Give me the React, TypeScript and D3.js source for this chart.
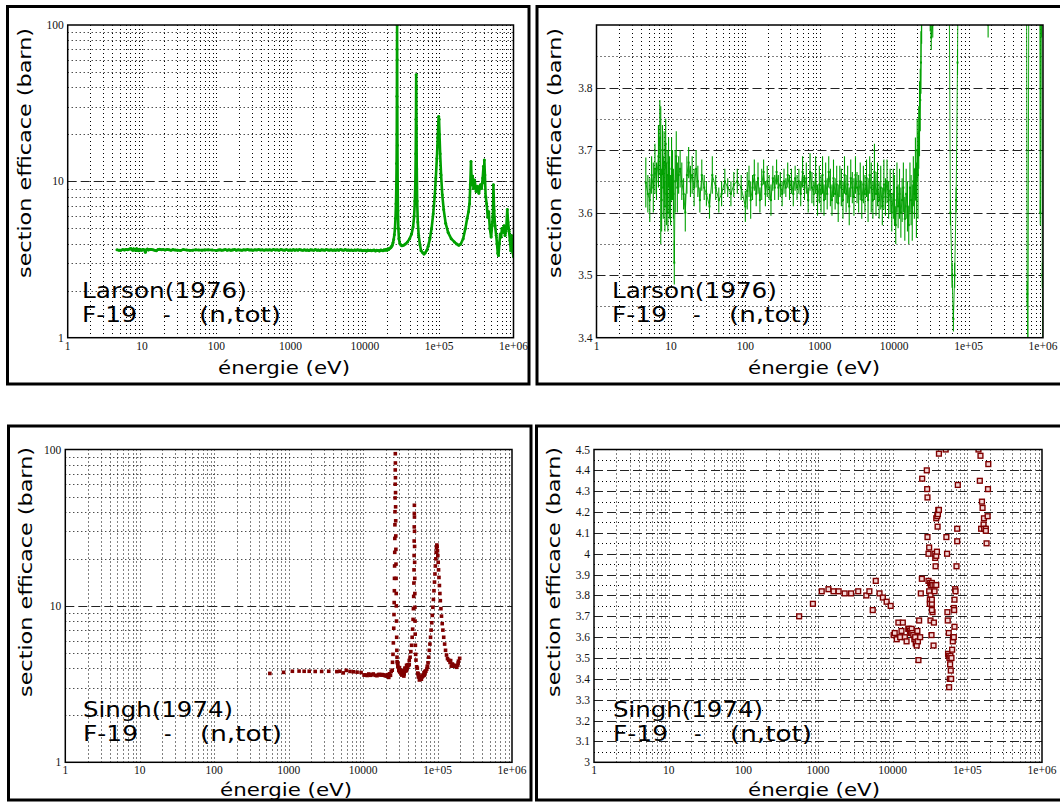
import React from 'react';
import * as d3 from 'd3';

// ---------------- data ----------------
const energyTicks = [1, 10, 100, 1000, 10000, 100000, 1000000];
const energyTickLabels = ['1', '10', '100', '1000', '10000', '1e+05', '1e+06'];
const logSigmaTicks = [1, 10, 100];
const logSigmaTickLabels = ['1', '10', '100'];
const larsonZoomTicks = [3.4, 3.5, 3.6, 3.7, 3.8];
const larsonZoomTickLabels = ['3.4', '3.5', '3.6', '3.7', '3.8'];
const singhZoomTicks = [3, 3.1, 3.2, 3.3, 3.4, 3.5, 3.6, 3.7, 3.8, 3.9, 4, 4.1, 4.2, 4.3, 4.4, 4.5];
const singhZoomTickLabels = ['3', '3.1', '3.2', '3.3', '3.4', '3.5', '3.6', '3.7', '3.8', '3.9', '4', '4.1', '4.2', '4.3', '4.4', '4.5'];

// Larson (1976): [energy eV, sigma barn, error barn] — flat region
const larsonFlat: [number, number, number][] = [
  [4.6, 3.648, 0.04], [4.9, 3.63, 0.03], [5.2, 3.62, 0.035], [5.5, 3.66, 0.03], [5.8, 3.64, 0.04],
  [6.1, 3.67, 0.04], [6.4, 3.65, 0.03], [6.8, 3.69, 0.05], [7.1, 3.72, 0.06], [7.3, 3.66, 0.11],
  [7.5, 3.62, 0.05], [7.7, 3.7, 0.04], [7.9, 3.64, 0.05], [8.1, 3.68, 0.05], [8.3, 3.61, 0.04],
  [8.5, 3.71, 0.04], [8.7, 3.63, 0.05], [8.9, 3.66, 0.04], [9.1, 3.6, 0.03], [9.3, 3.68, 0.04],
  [9.6, 3.64, 0.05], [9.9, 3.62, 0.04], [10.2, 3.67, 0.05], [10.5, 3.66, 0.04], [10.8, 3.63, 0.04],
  [11.1, 3.52, 0.035], [11.4, 3.65, 0.05], [11.8, 3.69, 0.04], [12.2, 3.64, 0.04], [12.7, 3.66, 0.03],
  [13.3, 3.67, 0.03], [14, 3.65, 0.03], [14.8, 3.63, 0.025], [15.6, 3.6, 0.03], [16.4, 3.66, 0.03],
  [17.3, 3.68, 0.025], [18.3, 3.65, 0.025], [19.3, 3.66, 0.03], [20.5, 3.64, 0.03], [21.8, 3.67, 0.03],
  [23, 3.65, 0.025], [24.5, 3.62, 0.02], [26, 3.66, 0.025], [28, 3.64, 0.02], [30, 3.63, 0.02],
  [33, 3.61, 0.02], [36, 3.66, 0.03], [40, 3.64, 0.02], [44, 3.62, 0.02], [48, 3.63, 0.02],
  [53, 3.65, 0.02], [58, 3.64, 0.015], [64, 3.63, 0.02], [70, 3.645, 0.02], [78, 3.65, 0.02],
  [88, 3.64, 0.02], [100, 3.61, 0.025], [106, 3.635, 0.03], [112, 3.65, 0.025], [118, 3.62, 0.03],
  [125, 3.64, 0.02], [132, 3.66, 0.025], [140, 3.63, 0.02], [148, 3.655, 0.025], [157, 3.62, 0.02],
  [166, 3.645, 0.025], [176, 3.665, 0.02], [186, 3.63, 0.02], [197, 3.65, 0.025], [209, 3.64, 0.02],
  [221, 3.62, 0.025], [234, 3.655, 0.02], [248, 3.64, 0.02], [263, 3.665, 0.02], [278, 3.64, 0.02],
  [295, 3.645, 0.02], [312, 3.63, 0.02], [331, 3.65, 0.02], [350, 3.64, 0.015], [371, 3.66, 0.02],
  [393, 3.64, 0.02], [416, 3.65, 0.02], [441, 3.63, 0.02], [467, 3.655, 0.02], [495, 3.64, 0.02],
  [524, 3.65, 0.02], [555, 3.63, 0.02], [588, 3.665, 0.025], [623, 3.64, 0.02], [660, 3.655, 0.025],
  [699, 3.62, 0.02], [741, 3.665, 0.03], [785, 3.64, 0.025], [831, 3.63, 0.02], [880, 3.66, 0.03],
  [933, 3.62, 0.025], [988, 3.645, 0.03], [1040, 3.63, 0.03], [1090, 3.66, 0.03], [1140, 3.62, 0.025],
  [1200, 3.65, 0.03], [1260, 3.63, 0.025], [1320, 3.665, 0.025], [1390, 3.64, 0.03], [1460, 3.62, 0.025],
  [1530, 3.655, 0.03], [1610, 3.63, 0.025], [1690, 3.645, 0.03], [1770, 3.615, 0.03], [1860, 3.65, 0.025],
  [1950, 3.64, 0.03], [2050, 3.62, 0.03], [2150, 3.66, 0.03], [2260, 3.63, 0.03], [2370, 3.645, 0.03],
  [2490, 3.61, 0.03], [2610, 3.655, 0.03], [2740, 3.64, 0.025], [2880, 3.625, 0.03], [3020, 3.66, 0.03],
  [3170, 3.64, 0.025], [3330, 3.63, 0.03], [3500, 3.65, 0.03], [3670, 3.62, 0.03], [3860, 3.645, 0.03],
  [4050, 3.63, 0.03], [4250, 3.655, 0.03], [4460, 3.62, 0.035], [4690, 3.66, 0.03], [4920, 3.64, 0.04],
  [5170, 3.62, 0.03], [5430, 3.665, 0.045], [5700, 3.63, 0.035], [5980, 3.645, 0.035], [6280, 3.62, 0.03],
  [6600, 3.64, 0.035], [6930, 3.61, 0.03], [7270, 3.645, 0.04], [7640, 3.625, 0.03], [8020, 3.65, 0.035],
  [8420, 3.62, 0.03], [8840, 3.635, 0.035], [9280, 3.6, 0.03], [9750, 3.63, 0.04], [10100, 3.62, 0.04],
  [10500, 3.58, 0.03], [10900, 3.64, 0.04], [11300, 3.61, 0.035], [11800, 3.63, 0.04], [12300, 3.6, 0.04],
  [12800, 3.62, 0.035], [13300, 3.64, 0.04], [13900, 3.59, 0.035], [14500, 3.63, 0.04], [15100, 3.61, 0.04],
  [15700, 3.58, 0.03], [16300, 3.64, 0.04], [16900, 3.62, 0.04], [17500, 3.6, 0.045], [18100, 3.65, 0.04],
  [18700, 3.63, 0.04], [19300, 3.67, 0.05], [19900, 3.62, 0.06], [20400, 3.7, 0.05], [20900, 3.66, 0.07],
  [21400, 3.72, 0.05], [21900, 3.75, 0.06],
];

// Larson (1976): resonance region [energy eV, sigma barn, error barn]
const larsonResonances: [number, number, number][] = [
  [22400, 3.78, 0.05], [22900, 3.84, 0.05], [23400, 3.92, 0.05], [23900, 4.05, 0.05], [24400, 4.25, 0.05],
  [24900, 4.55, 0.05], [25400, 5.0, 0.05], [25800, 5.8, 0.05], [26200, 7.2, 0.05], [26500, 9.5, 0.05],
  [26700, 13, 0.05], [26850, 20, 0.05], [26950, 35, 0.05], [27050, 70, 0.05], [27120, 100, 0.05],
  [27200, 60, 0.05], [27300, 30, 0.05], [27420, 17, 0.05], [27600, 10, 0.05], [27850, 6.5, 0.05],
  [28200, 5.0, 0.03], [28700, 4.3, 0.03], [29500, 4.0, 0.03], [30500, 3.92, 0.03], [31500, 3.88, 0.02],
  [33000, 3.9, 0.02], [35000, 3.97, 0.02], [37500, 4.1, 0.02], [40000, 4.3, 0.02], [42500, 4.6, 0.02],
  [44500, 5.1, 0.02], [46000, 6.0, 0.02], [47000, 7.5, 0.02], [47800, 10, 0.02], [48300, 15, 0.02],
  [48700, 25, 0.02], [49000, 48, 0.02], [49200, 40, 0.02], [49500, 22, 0.02], [49900, 12, 0.02],
  [50500, 7.5, 0.02], [51500, 5.5, 0.02], [53000, 4.5, 0.02], [55000, 3.95, 0.02], [57000, 3.6, 0.02],
  [60000, 3.5, 0.02], [62500, 3.43, 0.02], [65000, 3.5, 0.02], [68000, 3.62, 0.02], [71000, 3.84, 0.02],
  [75000, 4.3, 0.02], [79000, 5.0, 0.02], [83000, 6.2, 0.02], [87000, 8.0, 0.02], [90000, 10.5, 0.02],
  [93000, 14, 0.02], [95500, 19, 0.02], [97500, 24, 0.02], [98500, 26, 0.02], [99500, 25, 0.02],
  [101000, 20, 0.02], [103000, 15, 0.02], [106000, 11, 0.02], [110000, 8.2, 0.02], [115000, 6.6, 0.02],
  [122000, 5.4, 0.02], [132000, 4.7, 0.02], [145000, 4.3, 0.02], [160000, 4.1, 0.02], [172000, 3.98, 0.02],
  [183000, 3.9, 0.02], [195000, 3.97, 0.02], [210000, 4.3, 0.02], [225000, 5.0, 0.02], [238000, 5.8, 0.02],
  [248000, 6.4, 0.02], [256000, 7.2, 0.02], [262000, 9.5, 0.02], [268000, 13.4, 0.02], [274000, 9.5, 0.02],
  [281000, 10.8, 0.02], [290000, 9.0, 0.02], [300000, 10.2, 0.02], [314000, 8.6, 0.02], [328000, 9.3, 0.02],
  [342000, 8.4, 0.02], [358000, 9.5, 0.02], [372000, 9.0, 0.02], [385000, 10.5, 0.02], [395000, 12.5, 0.02],
  [400000, 9.8, 0.02], [405000, 13.7, 0.02], [412000, 11, 0.02], [422000, 8, 0.02], [435000, 7.2, 0.02],
  [450000, 5.9, 0.02], [465000, 6.4, 0.02], [480000, 5.0, 0.02], [500000, 4.4, 0.02], [515000, 5.2, 0.02],
  [528000, 6.0, 0.02], [537000, 9.5, 0.02], [548000, 6.5, 0.02], [565000, 5.2, 0.02], [585000, 4.5, 0.02],
  [600000, 4.0, 0.02], [614000, 3.47, 0.02], [628000, 3.35, 0.02], [645000, 4.0, 0.02], [662000, 4.6, 0.02],
  [680000, 4.4, 0.02], [700000, 5.0, 0.02], [720000, 4.7, 0.02], [745000, 5.2, 0.02], [770000, 4.5, 0.02],
  [800000, 5.0, 0.02], [825000, 6.6, 0.02], [845000, 5.5, 0.02], [870000, 4.8, 0.02], [895000, 4.2, 0.02],
  [920000, 3.6, 0.02], [940000, 4.5, 0.02], [960000, 3.9, 0.02], [980000, 3.5, 0.02], [1000000, 3.3, 0.02],
];

// Singh (1974): [energy eV, sigma barn]
const singhPoints: [number, number][] = [
  [559, 3.7], [855, 3.76], [1122, 3.82], [1380, 3.83], [1615, 3.82], [1888, 3.82], [2275, 3.81], [2775, 3.81],
  [3455, 3.82], [4440, 3.8], [4875, 3.82], [5410, 3.73], [5940, 3.87], [6665, 3.81], [7395, 3.79], [8300, 3.77],
  [9400, 3.75], [10300, 3.61], [10650, 3.62], [11330, 3.59], [11930, 3.67], [12600, 3.6], [13130, 3.63],
  [13680, 3.67], [14570, 3.6], [15360, 3.58], [16170, 3.64], [16600, 3.64], [17030, 3.63], [17570, 3.62],
  [17950, 3.64], [18300, 3.62], [18900, 3.61], [19500, 3.59], [20000, 3.6], [20350, 3.57], [21000, 3.56],
  [21430, 3.63], [21800, 3.58], [22140, 3.49], [22620, 3.68], [23340, 3.6], [23830, 3.81], [24600, 3.88],
  [24850, 4.36], [25200, 4.9], [25500, 5.8], [25800, 7.2], [26000, 8.8], [26150, 10.5], [26300, 12.5],
  [26400, 15], [26500, 18], [26600, 22], [26680, 27], [26760, 33], [26830, 40], [26900, 49], [26960, 60],
  [27020, 74], [27080, 94], [27140, 82], [27200, 66], [27260, 53], [27330, 43], [27400, 35], [27480, 28],
  [27560, 23], [27650, 18.5], [27750, 15], [27850, 12], [27950, 10], [28100, 8], [28250, 6.3], [28400, 5.2],
  [28550, 4.7], [28650, 4.4], [28970, 4.31], [29270, 4.27], [29270, 4.08], [30180, 4.0], [30810, 4.03],
  [30180, 3.87], [31790, 3.86], [32460, 3.85], [33490, 3.86], [34190, 3.85], [36400, 3.85], [38340, 3.85],
  [30810, 3.82], [32120, 3.8], [31460, 3.78], [31460, 3.76], [33490, 3.76], [33490, 3.78], [34190, 3.72],
  [33490, 3.73], [32120, 3.68], [33140, 3.61], [35290, 3.56], [35650, 3.67], [36400, 3.82], [37160, 3.98],
  [36400, 4.0], [37550, 3.94], [38340, 3.99], [39140, 4.01], [38340, 4.17], [39550, 4.18], [40380, 4.19],
  [40800, 4.21], [41660, 4.21], [41660, 4.48], [39960, 4.13], [42800, 4.7], [43800, 5.1], [44800, 5.6],
  [45600, 6.3], [46300, 7.1], [46900, 8.2], [47400, 9.6], [47800, 11.5], [48100, 14], [48300, 17],
  [48450, 21], [48550, 26], [48650, 32], [48750, 39], [48850, 44], [48950, 37], [49050, 30], [49150, 24],
  [49250, 19], [49400, 15], [49550, 12], [49700, 9.8], [49900, 8], [50100, 6.6], [50400, 5.6], [50800, 4.9],
  [51300, 4.5], [52400, 4.08], [53500, 4.0], [54100, 3.72], [54700, 3.68], [55200, 3.52], [56400, 3.62],
  [56400, 3.51], [57000, 3.36], [57600, 3.5], [58200, 3.4], [58800, 3.47], [59400, 3.51], [60000, 3.44],
  [60700, 3.4], [61300, 3.5], [62600, 3.54], [63900, 3.58], [64500, 3.6], [65900, 3.6], [65900, 3.74],
  [66600, 3.73], [67300, 3.65], [67300, 3.78], [68700, 3.83], [69500, 3.82], [71600, 3.94], [73100, 4.06],
  [73100, 4.12], [74600, 4.33], [76000, 4.7], [77500, 5.2], [79000, 5.7], [80500, 6.3], [82000, 7.0],
  [83500, 7.8], [85000, 8.7], [86500, 9.8], [88000, 11], [89500, 12.5], [91000, 14.2], [92300, 16],
  [93500, 18], [94700, 20], [95800, 22], [96800, 23.5], [97800, 24.5], [98800, 24], [99800, 22.5],
  [100800, 21], [102000, 19], [103200, 17], [104500, 15.2], [106000, 13.5], [107500, 12], [109000, 10.8],
  [111000, 9.6], [113000, 8.6], [115500, 7.7], [118000, 7], [121000, 6.3], [124500, 5.7], [128000, 5.2],
  [132000, 4.85], [136000, 4.6], [141000, 4.5], [147000, 4.35], [150000, 4.47], [153000, 4.12],
  [157000, 4.25], [160000, 4.22], [165000, 4.14], [167000, 4.17], [168000, 4.12], [177000, 4.12],
  [177000, 4.11], [181000, 4.05], [187000, 4.18], [189000, 4.31], [191000, 4.43], [198000, 4.62],
];

// ---------------- rendering ----------------
const FONT_HAND = "'Comic Sans MS', 'DejaVu Sans', sans-serif";
const FONT_TICK = "'Liberation Serif', 'DejaVu Serif', serif";
const GREEN = '#00a000';
const RED = '#800000';

type Plot = { left: number; right: number; top: number; bottom: number };

type PanelCfg = {
  id: string;
  frame: { x0: number; y0: number; x1: number; y1: number };
  plot: Plot;
  yLog: boolean;
  yDomain: [number, number];
  yTicks: number[];
  yTickLabels: string[];
  yMajor: number[];
  yMinor: number[];
  name: string;
  nameWidth: number;
  textX: number;
  line1Y: number;
  line2Y: number;
  yTitleY: number;
  xTitleX: number;
  xTitleY: number;
  draw: (x: any, y: any) => React.ReactNode;
};

function Panel({ cfg }: { cfg: PanelCfg }) {
  const { plot } = cfg;
  const x = d3.scaleLog().domain([1, 1e6]).range([plot.left, plot.right]);
  const y = cfg.yLog
    ? d3.scaleLog().domain(cfg.yDomain).range([plot.bottom, plot.top])
    : d3.scaleLinear().domain(cfg.yDomain).range([plot.bottom, plot.top]);

  const xGrid: number[] = [];
  for (let k = 0; k < 6; k++) {
    for (let d = 1; d <= 9; d++) {
      const v = d * Math.pow(10, k);
      if (v > 1 && v < 1e6) xGrid.push(v);
    }
  }
  const px = (v: number) => Math.round(v) + 0.5;
  const f = cfg.frame;
  const tx = cfg.textX;

  return (
    <g>
      <defs>
        <clipPath id={'clip-' + cfg.id}>
          <rect x={plot.left} y={plot.top} width={plot.right - plot.left} height={plot.bottom - plot.top} />
        </clipPath>
      </defs>
      {/* outer frame */}
      <rect x={f.x0} y={f.y0} width={f.x1 - f.x0} height={f.y1 - f.y0} fill="none" stroke="#000" strokeWidth={3} />
      {/* grid */}
      <g stroke="#000" strokeWidth={1} fill="none">
        {xGrid.map((v) => (
          <line key={'xg' + v} x1={px(x(v))} x2={px(x(v))} y1={plot.top} y2={plot.bottom} strokeDasharray="1,3" />
        ))}
        {cfg.yMinor.map((v) => (
          <line key={'ym' + v} x1={plot.left} x2={plot.right} y1={px(y(v))} y2={px(y(v))} strokeDasharray="1,3" />
        ))}
        {cfg.yMajor.map((v) => (
          <line key={'yM' + v} x1={plot.left} x2={plot.right} y1={px(y(v))} y2={px(y(v))} strokeDasharray="9,4" stroke="#222" />
        ))}
      </g>
      {/* data */}
      <g clipPath={`url(#clip-${cfg.id})`}>{cfg.draw(x, y)}</g>
      {/* border */}
      <rect x={plot.left} y={plot.top} width={plot.right - plot.left} height={plot.bottom - plot.top} fill="none" stroke="#000" strokeWidth={1.5} />
      {/* tick labels */}
      <g fontFamily={FONT_TICK} fontSize={11.5} fill="#111">
        {energyTicks.map((v, i) => (
          <text key={'xt' + v} x={x(v)} y={plot.bottom + 12} textAnchor="middle">
            {energyTickLabels[i]}
          </text>
        ))}
        {cfg.yTicks.map((v, i) => (
          <text key={'yt' + v} x={plot.left - 4} y={y(v) + 4} textAnchor="end">
            {cfg.yTickLabels[i]}
          </text>
        ))}
      </g>
      {/* titles */}
      <text
        x={0}
        y={0}
        transform={`translate(${f.x0 + 18.5},${cfg.yTitleY}) rotate(-90)`}
        textAnchor="middle"
        dominantBaseline="middle"
        fontFamily={FONT_HAND}
        fontSize={18}
        textLength={250}
        lengthAdjust="spacingAndGlyphs"
      >
        section efficace (barn)
      </text>
      <text
        x={cfg.xTitleX}
        y={cfg.xTitleY}
        textAnchor="middle"
        fontFamily={FONT_HAND}
        fontSize={17}
        textLength={132}
        lengthAdjust="spacingAndGlyphs"
      >
        énergie (eV)
      </text>
      <g fontFamily={FONT_HAND} fontSize={21} fill="#000">
        <text x={tx} y={cfg.line1Y} textLength={cfg.nameWidth} lengthAdjust="spacingAndGlyphs">
          {cfg.name}
        </text>
        <text x={tx} y={cfg.line2Y} textLength={55} lengthAdjust="spacingAndGlyphs">
          F-19
        </text>
        <text x={tx + 81} y={cfg.line2Y}>-</text>
        <text x={tx + 117} y={cfg.line2Y} textLength={82} lengthAdjust="spacingAndGlyphs">
          (n,tot)
        </text>
      </g>
    </g>
  );
}

const larsonAll = [...larsonFlat, ...larsonResonances];

function logMinor(): number[] {
  const out: number[] = [];
  for (let k = 0; k < 2; k++) for (let d = 2; d <= 9; d++) out.push(d * Math.pow(10, k));
  return out;
}
function linLines(lo: number, hi: number, step: number): number[] {
  const out: number[] = [];
  const n = Math.round((hi - lo) / step);
  for (let i = 0; i <= n; i++) out.push(+(lo + i * step).toFixed(3));
  return out;
}

export default function App() {
  const topPlotL: Plot = { left: 67.7, right: 513.5, top: 25, bottom: 337.7 };
  const topPlotR: Plot = { left: 596.5, right: 1043, top: 25, bottom: 337.7 };
  const botPlotL: Plot = { left: 65.3, right: 512, top: 449.5, bottom: 762.3 };
  const botPlotR: Plot = { left: 594, right: 1042, top: 449.5, bottom: 762.3 };

  const panels: PanelCfg[] = [
    {
      id: 'p1',
      frame: { x0: 7.5, y0: 6.5, x1: 529, y1: 384 },
      plot: topPlotL,
      yLog: true,
      yDomain: [1, 100],
      yTicks: logSigmaTicks,
      yTickLabels: logSigmaTickLabels,
      yMajor: [10],
      yMinor: logMinor(),
      name: 'Larson(1976)',
      nameWidth: 165,
      textX: 82,
      line1Y: 298,
      line2Y: 322,
      yTitleY: 153,
      xTitleX: 284,
      xTitleY: 374,
      draw: (x, y) => {
        const line = d3
          .line<[number, number, number]>()
          .x((d) => x(d[0]))
          .y((d) => y(d[1]));
        return (
          <g>
            <path d={line(larsonAll) || ''} fill="none" stroke={GREEN} strokeWidth={2.6} strokeLinejoin="round" />
            {larsonAll.map((d, i) => (
              <circle key={i} cx={x(d[0])} cy={y(d[1])} r={1.5} fill={GREEN} />
            ))}
          </g>
        );
      },
    },
    {
      id: 'p2',
      frame: { x0: 537, y0: 6.5, x1: 1064, y1: 384 },
      plot: topPlotR,
      yLog: false,
      yDomain: [3.4, 3.9],
      yTicks: larsonZoomTicks,
      yTickLabels: larsonZoomTickLabels,
      yMajor: linLines(3.5, 3.8, 0.1),
      yMinor: linLines(3.45, 3.85, 0.1),
      name: 'Larson(1976)',
      nameWidth: 165,
      textX: 612,
      line1Y: 298,
      line2Y: 322,
      yTitleY: 153,
      xTitleX: 814,
      xTitleY: 374,
      draw: (x, y) => {
        const line = d3
          .line<[number, number, number]>()
          .x((d) => x(d[0]))
          .y((d) => y(d[1]));
        return (
          <g>
            <path d={line(larsonAll) || ''} fill="none" stroke={GREEN} strokeWidth={0.9} />
            {larsonAll.map((d, i) => (
              <g key={i}>
                <line x1={x(d[0])} x2={x(d[0])} y1={y(d[1] - d[2])} y2={y(d[1] + d[2])} stroke={GREEN} strokeWidth={1.1} />
                <rect x={x(d[0]) - 1} y={y(d[1]) - 1} width={2} height={2} fill={GREEN} />
              </g>
            ))}
          </g>
        );
      },
    },
    {
      id: 'p3',
      frame: { x0: 8.5, y0: 426, x1: 531, y1: 800 },
      plot: botPlotL,
      yLog: true,
      yDomain: [1, 100],
      yTicks: logSigmaTicks,
      yTickLabels: logSigmaTickLabels,
      yMajor: [10],
      yMinor: logMinor(),
      name: 'Singh(1974)',
      nameWidth: 150,
      textX: 83,
      line1Y: 717,
      line2Y: 741,
      yTitleY: 572,
      xTitleX: 286,
      xTitleY: 796,
      draw: (x, y) => (
        <g>
          {singhPoints.map((d, i) => (
            <rect key={i} x={x(d[0]) - 1.8} y={y(d[1]) - 1.8} width={3.6} height={3.6} fill={RED} />
          ))}
        </g>
      ),
    },
    {
      id: 'p4',
      frame: { x0: 536.5, y0: 426, x1: 1064, y1: 800 },
      plot: botPlotR,
      yLog: false,
      yDomain: [3, 4.5],
      yTicks: singhZoomTicks,
      yTickLabels: singhZoomTickLabels,
      yMajor: linLines(3.1, 4.4, 0.1),
      yMinor: linLines(3.05, 4.45, 0.1),
      name: 'Singh(1974)',
      nameWidth: 150,
      textX: 613,
      line1Y: 717,
      line2Y: 741,
      yTitleY: 572,
      xTitleX: 814,
      xTitleY: 796,
      draw: (x, y) => (
        <g>
          {singhPoints.map((d, i) => (
            <rect
              key={i}
              x={x(d[0]) - 2.4}
              y={y(d[1]) - 2.4}
              width={4.8}
              height={4.8}
              fill="#f4d8d8"
              stroke={RED}
              strokeWidth={1.4}
            />
          ))}
        </g>
      ),
    },
  ];

  return (
    <svg
      width={1060}
      height={802}
      viewBox="0 0 1060 802"
      style={{ position: 'absolute', left: 0, top: 0, background: '#fff' }}
    >
      <rect x={0} y={0} width={1060} height={802} fill="#fff" />
      {panels.map((p) => (
        <Panel key={p.id} cfg={p} />
      ))}
    </svg>
  );
}
